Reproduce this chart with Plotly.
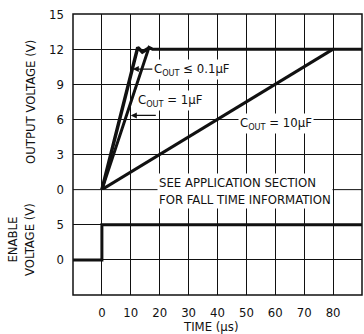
import plotly.graph_objects as go
from plotly.subplots import make_subplots

# ---- data ----
t_cout_01 = [0, 12.4, 14.0, 16.3]
v_cout_01 = [0, 12.15, 11.75, 12.1]
t_cout_1 = [0, 16.3, 17.5, 90]
v_cout_1 = [0, 12.15, 12.0, 12.0]
t_cout_10 = [0, 80]
v_cout_10 = [0, 12]
t_enable = [-10, 0, 0, 90]
v_enable = [0, 0, 5, 5]

x_ticks = [0, 10, 20, 30, 40, 50, 60, 70, 80, 90]
y_out_ticks = [0, 3, 6, 9, 12, 15]
y_en_ticks = [0, 5]

FONT = "Liberation Sans Narrow, Arial Narrow, DejaVu Sans Condensed, sans-serif"
INK = "#111111"

fig = make_subplots(rows=2, cols=1, shared_xaxes=True, vertical_spacing=0,
                    row_heights=[5, 3])

line_style = dict(color=INK, width=3)
fig.add_trace(go.Scatter(x=t_cout_01, y=v_cout_01, mode="lines",
                         line=dict(color=INK, width=3.5)), row=1, col=1)
fig.add_trace(go.Scatter(x=t_cout_1, y=v_cout_1, mode="lines", line=line_style), row=1, col=1)
fig.add_trace(go.Scatter(x=t_cout_10, y=v_cout_10, mode="lines", line=line_style), row=1, col=1)
fig.add_trace(go.Scatter(x=t_enable, y=v_enable, mode="lines", line=line_style), row=2, col=1)

axis_common = dict(showgrid=True, gridcolor=INK, gridwidth=1, zeroline=False,
                   showline=False, ticks="",
                   tickfont=dict(family=FONT, size=13, color=INK))

fig.update_xaxes(range=[-10, 90], tickvals=x_ticks, **axis_common)
fig.update_xaxes(showticklabels=False, row=1, col=1)
fig.update_xaxes(showticklabels=True, ticklabelstandoff=8, row=2, col=1)
fig.update_yaxes(range=[0, 15], tickvals=y_out_ticks, ticklabelstandoff=8,
                 row=1, col=1, **axis_common)
fig.update_yaxes(range=[-5, 10], tickvals=y_en_ticks, ticklabelstandoff=8,
                 row=2, col=1, **axis_common)

shapes = [
    dict(type="rect", xref="paper", yref="paper", x0=0, y0=0, x1=1, y1=1,
         line=dict(color=INK, width=1.5), layer="above"),
    dict(type="line", xref="paper", yref="paper", x0=0, y0=3 / 8, x1=1, y1=3 / 8,
         line=dict(color=INK, width=1), layer="below"),
]

afont = dict(family=FONT, size=13, color=INK)
annotations = [
    dict(text="OUTPUT VOLTAGE (V)", xref="paper", yref="paper",
         x=(30 - 73) / 289, y=(295 - 102) / 281, textangle=-90,
         showarrow=False, font=afont, xanchor="center", yanchor="middle"),
    dict(text="ENABLE<br>VOLTAGE (V)", xref="paper", yref="paper",
         x=(21 - 73) / 289, y=(295 - 240) / 281, textangle=-90,
         showarrow=False, font=afont, xanchor="center", yanchor="middle"),
    dict(text="TIME (µs)", xref="paper", yref="paper",
         x=(210 - 73) / 289, y=(295 - 326) / 281,
         showarrow=False, font=afont, xanchor="center", yanchor="middle"),
    dict(text="C<sub>OUT</sub> ≤ 0.1µF", xref="x", yref="y",
         x=10.7, y=10.3, ax=59, ay=0, showarrow=True, arrowhead=2,
         arrowsize=1, arrowwidth=1.2, arrowcolor=INK, font=afont,
         bgcolor="white", borderpad=1),
    dict(text="C<sub>OUT</sub> = 1µF", xref="x", yref="y",
         x=23.9, y=7.6, showarrow=False, font=afont, bgcolor="white", borderpad=1),
    dict(text=" ", xref="x", yref="y", x=10.0, y=6.34, ax=27, ay=0,
         showarrow=True, arrowhead=2, arrowsize=1, arrowwidth=1.2,
         arrowcolor=INK, font=dict(size=2)),
    dict(text="C<sub>OUT</sub> = 10µF", xref="x", yref="y",
         x=60.2, y=5.66, showarrow=False, font=afont, bgcolor="white", borderpad=1),
    dict(text="SEE APPLICATION SECTION<br>FOR FALL TIME INFORMATION",
         xref="paper", yref="paper", x=(157 - 73) / 289, y=(295 - 191) / 281,
         xanchor="left", yanchor="middle", align="left", showarrow=False,
         font=afont, bgcolor="white", borderpad=1),
]

fig.update_layout(width=364, height=334,
                  margin=dict(l=73, r=2, t=14, b=39),
                  paper_bgcolor="white", plot_bgcolor="white",
                  showlegend=False, annotations=annotations, shapes=shapes,
                  font=dict(family=FONT, color=INK))

fig.write_html("out.html", config={"displayModeBar": False},
               post_script="document.body.style.margin='0';document.body.style.overflow='hidden';")
